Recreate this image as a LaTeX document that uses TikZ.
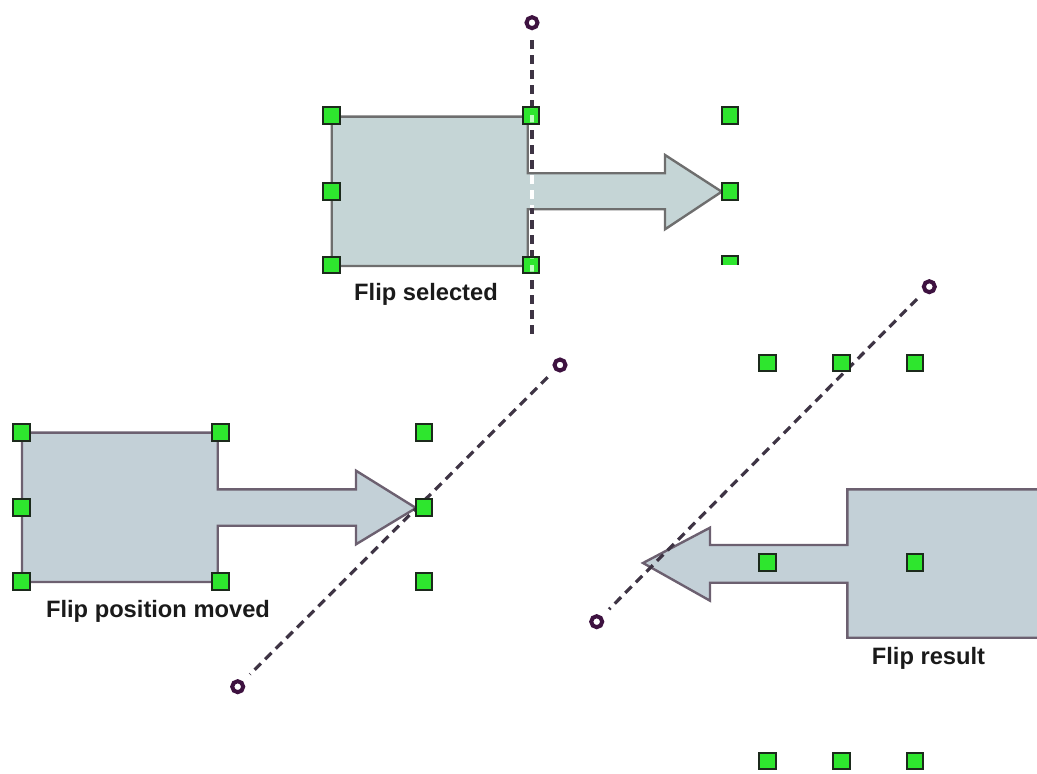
\documentclass[tikz,border=0pt]{standalone}
\usepackage{fontspec}
\setmainfont{Liberation Sans}
\definecolor{hgreen}{HTML}{2EE62E}
\definecolor{hborder}{HTML}{1C2A1C}
\definecolor{shapefill}{HTML}{C5D5D6}
\definecolor{shapefillb}{HTML}{C3D0D7}
\definecolor{shapeline}{HTML}{6E6E6E}
\definecolor{shapelineb}{HTML}{6C6070}
\definecolor{axiscol}{HTML}{3E3444}
\definecolor{pivotcol}{HTML}{3E1240}
\definecolor{txtcol}{HTML}{1A1A1A}
\begin{document}
\begin{tikzpicture}[x=0.5pt,y=-0.5pt,
  handle/.style={rectangle,draw=hborder,fill=hgreen,line width=1pt,minimum size=8.3pt,inner sep=0pt},
  pivot/.style={circle,draw=pivotcol,line width=2pt,minimum size=5.5pt,inner sep=0pt},
  axis/.style={draw=axiscol,line width=1.6pt,dash pattern=on 4.5pt off 3pt,shorten <=5pt,shorten >=5pt},
  flipshape/.style={fill=shapefill,draw=shapeline,line width=1.2pt,line join=miter},
  flipshapeb/.style={fill=shapefillb,draw=shapelineb,line width=1.2pt,line join=miter},
  caption/.style={font=\bfseries\fontsize{11.85}{14}\selectfont,text=txtcol,anchor=base,inner sep=0pt}]
\useasboundingbox (0,0) rectangle (1037,774);
\clip (0,0) rectangle (1037,774);

% ---------- top panel: Flip selected ----------
\draw[flipshape] (331.7,116.7) -- (527.7,116.7) -- (527.7,173.3) -- (665,173.3) -- (665,155)
  -- (721.7,191.7) -- (665,229.3) -- (665,209.3) -- (527.7,209.3) -- (527.7,266) -- (331.7,266) -- cycle;
\node[pivot] (tp) at (532,22.7) {};
\coordinate (tb) at (532,339);
\draw[axis,shorten >=0pt] (tp) -- (tb);
\begin{scope}
  \clip (529,174.5) rectangle (540,208);
  \draw[axis,draw=white,shorten >=0pt] (tp) -- (tb);
\end{scope}
\node[handle] (t1) at (331.7,115.7) {};
\node[handle] (t2) at (531,115.7) {};
\node[handle] (t3) at (730,115.7) {};
\node[handle] (t4) at (331.7,191.7) {};
\node[handle] (t5) at (730,191.7) {};
\node[handle] (t6) at (331.7,265) {};
\node[handle] (t7) at (531,265) {};
\begin{scope}
  \clip (700,230) rectangle (760,265);
  \node[handle] (t8) at (730,264) {};
\end{scope}
\begin{scope}
  \clip (528,109) rectangle (535,122.5) (528,258.3) rectangle (535,271.7);
  \draw[axis,draw=green!25!white,shorten >=0pt] (tp) -- (tb);
\end{scope}
\node[caption] (capsel) at (426,301) {Flip selected};

% ---------- bottom-left panel: Flip position moved ----------
\draw[flipshapeb] (22,432.7) -- (217.7,432.7) -- (217.7,489.3) -- (356,489.3) -- (356,470.7)
  -- (416,508) -- (356,544.3) -- (356,525.7) -- (217.7,525.7) -- (217.7,582) -- (22,582) -- cycle;
\node[pivot] (lp1) at (560,365) {};
\node[pivot] (lp2) at (237.7,686.7) {};
\draw[axis] (lp1) -- (lp2);
\node[handle] (l1) at (21.7,432.3) {};
\node[handle] (l2) at (220.7,432.3) {};
\node[handle] (l3) at (424,432.3) {};
\node[handle] (l4) at (21.7,507.7) {};
\node[handle] (l5) at (424,507.7) {};
\node[handle] (l6) at (21.7,581.7) {};
\node[handle] (l7) at (220.7,581.7) {};
\node[handle] (l8) at (424,581.7) {};
\node[caption] (capmov) at (158,617) {Flip position moved};

% ---------- bottom-right panel: Flip result ----------
\draw[flipshapeb] (1045,489.3) -- (847.3,489.3) -- (847.3,545) -- (710,545) -- (710,527.7)
  -- (643,563) -- (710,600.7) -- (710,582.7) -- (847.3,582.7) -- (847.3,637.7) -- (1045,637.7) -- cycle;
\node[pivot] (rp1) at (929.3,286.7) {};
\node[pivot] (rp2) at (596.7,621.7) {};
\draw[axis] (rp1) -- (rp2);
\node[handle] (r1) at (767.7,363) {};
\node[handle] (r2) at (841.7,363) {};
\node[handle] (r3) at (915,363) {};
\node[handle] (r4) at (767.7,562.7) {};
\node[handle] (r5) at (915,562.7) {};
\node[handle] (r6) at (767.7,761) {};
\node[handle] (r7) at (841.7,761) {};
\node[handle] (r8) at (915,761) {};
\node[caption] (capres) at (928.5,664) {Flip result};
\end{tikzpicture}
\end{document}
